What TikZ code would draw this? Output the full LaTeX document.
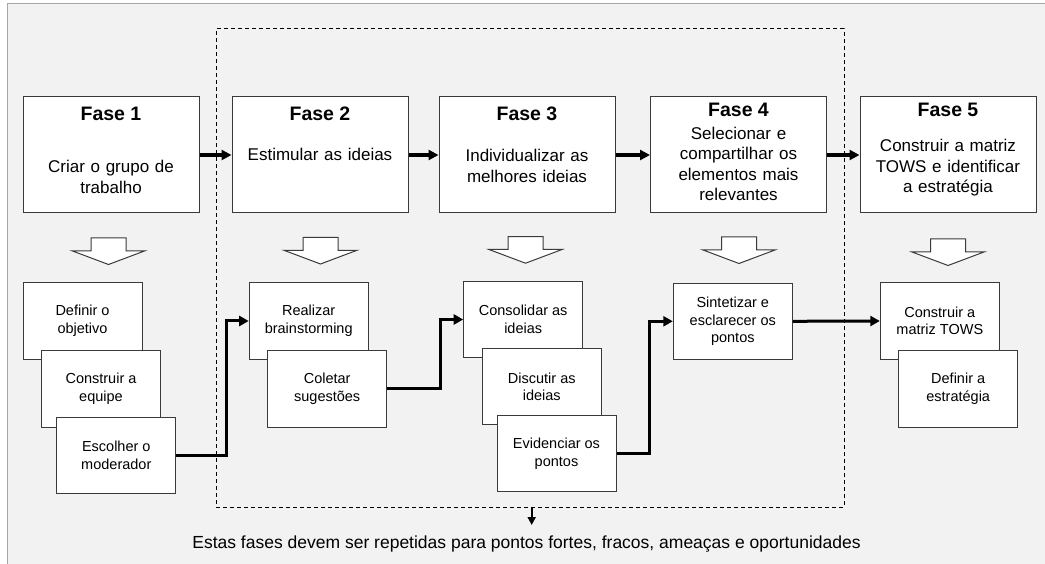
\documentclass[tikz,border=0pt]{standalone}
\usepackage{fontspec}
\setmainfont{Liberation Sans}
\usetikzlibrary{arrows.meta,calc}
\definecolor{bgfill}{HTML}{F2F2F2}
\definecolor{framegray}{HTML}{A6A6A6}
\definecolor{boxline}{HTML}{3A3A3A}
\tikzset{
  phasebox/.style={draw=boxline, line width=1pt, fill=white, minimum width=176pt, minimum height=116pt, inner sep=0pt},
  phasetitle/.style={font=\fontsize{19.5}{23}\selectfont\bfseries, anchor=base, inner sep=0pt},
  phasebody/.style={font=\fontsize{17}{20.5}\selectfont, anchor=base, align=center, text width=174pt, inner sep=0pt},
  taskbox/.style={draw=boxline, line width=1pt, fill=white, minimum width=119pt, minimum height=76.5pt, inner sep=0pt, align=center, font=\fontsize{14.5}{17.6}\selectfont},
  flow/.style={line width=3.3pt, -{Triangle[length=10pt,width=10pt]}},
  link/.style={line width=3pt, line join=miter, -{Triangle[length=9.5pt,width=10pt]}},
  repbox/.style={draw=black, line width=1pt, dash pattern=on 4pt off 3pt, minimum width=628pt, minimum height=478pt, inner sep=0pt},
  smallarrow/.style={line width=1.8pt, -{Triangle[length=8pt,width=8pt]}},
  downblock/.pic={\draw[boxline, line width=1pt, fill=white, line join=miter] (-17.5,0) -- (17.5,0) -- (17.5,12.8) -- (36.5,12.8) -- (0,26.5) -- (-36.5,12.8) -- (-17.5,12.8) -- cycle;}
}
\begin{document}
\begin{tikzpicture}[x=1pt,y=-1pt]
\useasboundingbox (0,0) rectangle (1045,564);
\fill[white] (0,0) rectangle (1045,564);
\fill[bgfill] (7,4) rectangle (1045,564);
\draw[framegray, line width=1pt] (7,564) -- (7,4) -- (1045,4);

% dashed repetition frame
\node[repbox] (rep) at (530,268) {};

% phase boxes
\node[phasebox] (f1) at (111,155) {};
\node[phasebox] (f2) at (320,155) {};
\node[phasebox] (f3) at (527,155) {};
\node[phasebox] (f4) at (738.5,155) {};
\node[phasebox] (f5) at (948,155) {};

\node[phasetitle] (f1t) at (111,120.7) {Fase 1};
\node[phasetitle] (f2t) at (320,120.7) {Fase 2};
\node[phasetitle] (f3t) at (527,120.7) {Fase 3};
\node[phasetitle] (f4t) at (738.5,116.7) {Fase 4};
\node[phasetitle] (f5t) at (948,116.7) {Fase 5};

\node[phasebody] (f1b) at (111,172.7) {Criar o grupo de\\trabalho};
\node[phasebody] (f2b) at (320,161) {Estimular as ideias};
\node[phasebody] (f3b) at (527,161.7) {Individualizar as\\melhores ideias};
\node[phasebody] (f4b) at (738.5,139.3) {Selecionar e\\compartilhar os\\elementos mais\\relevantes};
\node[phasebody] (f5b) at (948,151.7) {Construir a matriz\\TOWS e identificar\\a estratégia};

\draw[flow] (f1.east) -- (f2.west);
\draw[flow] (f2.east) -- (f3.west);
\draw[flow] (f3.east) -- (f4.west);
\draw[flow] (f4.east) -- (f5.west);

% hollow down arrows
\pic at (108.5,238) {downblock};
\pic at (320.5,237.5) {downblock};
\pic at (525.5,236.7) {downblock};
\pic at (739,237) {downblock};
\pic at (948,239) {downblock};

% task boxes
\node[taskbox] (d1) at (82.5,321) {Definir o\\objetivo};
\node[taskbox] (d2) at (101,388.8) {Construir a\\equipe};
\node[taskbox] (d3) at (116.3,455.5) {Escolher o\\moderador};

\node[taskbox] (r1) at (308.7,321) {Realizar\\brainstorming};
\node[taskbox] (r2) at (327.2,388.8) {Coletar\\sugestões};

\node[taskbox] (c1) at (523.2,319.5) {Consolidar as\\ideias};
\node[taskbox] (c2) at (541.8,386.7) {Discutir as\\ideias};
\node[taskbox] (c3) at (556.5,453.7) {Evidenciar os\\pontos};

\node[taskbox] (s1) at (732.8,321.3) {Sintetizar e\\esclarecer os\\pontos};

\node[taskbox] (t1) at (939.8,321) {Construir a\\matriz TOWS};
\node[taskbox] (t2) at (958.2,388.8) {Definir a\\estratégia};

% connectors
\draw[link] (d3.east) -- ++(50,0) |- (r1.west);
\draw[link] (r2.east) -- ++(53.3,0) |- (c1.west);
\draw[link] (c3.east) -- ++(33.3,0) |- (s1.west);
\draw[link] (s1.east) -- (t1.west);

% note
\node[font=\fontsize{17.5}{21}\selectfont, anchor=base, inner sep=0pt] (note) at (526.5,548) {Estas fases devem ser repetidas para pontos fortes, fracos, ameaças e oportunidades};
\coordinate (noteend) at (531.7,525);
\draw[smallarrow] (rep.south -| noteend) -- (noteend);
\end{tikzpicture}
\end{document}
